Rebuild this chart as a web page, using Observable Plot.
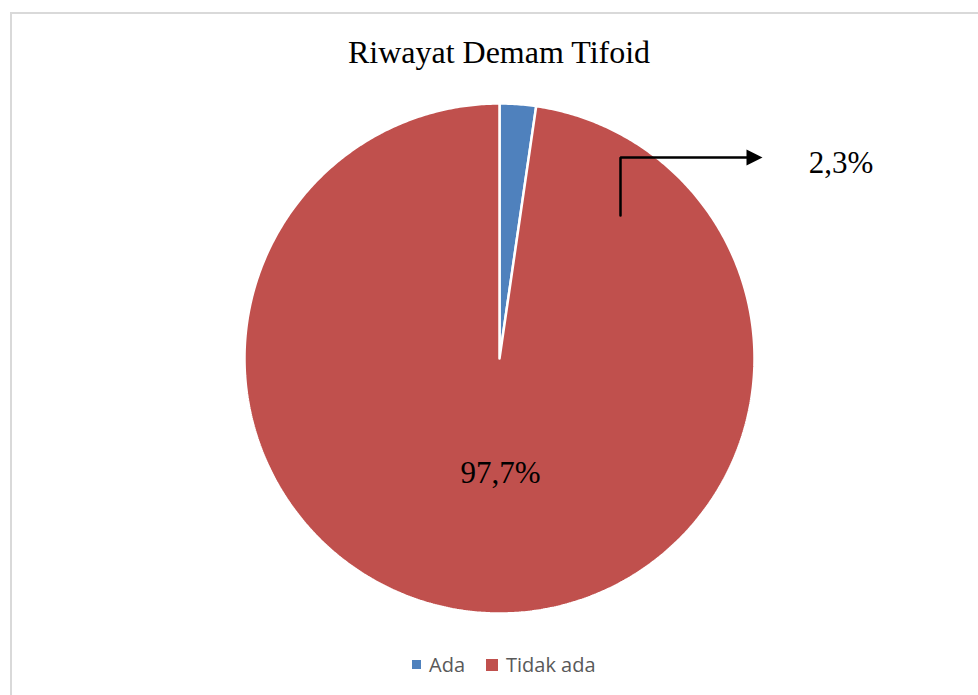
<!DOCTYPE html>
<html>
<head>
<meta charset="utf-8">
<script src="https://cdn.jsdelivr.net/npm/d3@7"></script>
<script src="https://cdn.jsdelivr.net/npm/@observablehq/plot@0.6"></script>
<style>
  html, body { margin: 0; padding: 0; background: #fff; }
  #wrap { position: relative; width: 978px; height: 695px; overflow: hidden; }
  #frame { position: absolute; left: 10px; top: 12px; width: 980px; height: 700px;
           border-left: 2px solid #d9d9d9; border-top: 2px solid #d9d9d9; box-sizing: border-box; }
  #title { position: absolute; left: 0; top: 36px; width: 998px; text-align: center;
           font-family: "Liberation Serif", "Times New Roman", serif; font-size: 32px; line-height: 32px; color: #000; }
  #chart { position: absolute; left: 0; top: 0; }
  #legend { position: absolute; left: 412px; top: 651px; display: flex; align-items: center;
            font-family: "Open Sans", sans-serif; font-size: 20px; color: #595959; }
  .sw { display: inline-block; margin-right: 8px; }
  .item { display: flex; align-items: center; margin-right: 21px; }
</style>
</head>
<body>
<div id="wrap">
  <div id="frame"></div>
  <div id="chart"></div>
  <div id="title">Riwayat Demam Tifoid</div>
  <div id="legend"></div>
</div>
<script>
// ---- data ----
const categories = ["Ada", "Tidak ada"];
const values = [2.3, 97.7];
const valueLabels = ["2,3%", "97,7%"];
const colors = ["#4F81BD", "#C0504D"];
const chartTitle = "Riwayat Demam Tifoid";

// label anchor positions (in radius units, from pie centre)
const labelX = [1.339, 0.004];
const labelY = [0.765, -0.451];

// callout elbow line (radius units)
const calloutX = [0.4745, 0.4745, 0.975];
const calloutY = [0.5608, 0.7882, 0.7882];
const calloutTip = [{x: 1.0, y: 0.7882}];

// ---- geometry from data ----
const arcs = d3.pie().sort(null).startAngle(0).endAngle(2 * Math.PI)(values);
const slicePts = [];
arcs.forEach((a, i) => {
  const key = categories[i];
  slicePts.push({key, x: 0, y: 0});
  const n = Math.max(2, Math.ceil((a.endAngle - a.startAngle) / (Math.PI / 360)));
  for (let k = 0; k <= n; k++) {
    const t = a.startAngle + (a.endAngle - a.startAngle) * k / n;
    slicePts.push({key, x: Math.sin(t), y: Math.cos(t)});
  }
  slicePts.push({key, x: 0, y: 0});
});
const labelData = valueLabels.map((t, i) => ({t, x: labelX[i], y: labelY[i]}));
const calloutData = calloutX.map((x, i) => ({x, y: calloutY[i]}));

const triRight = {
  draw(ctx, size) {
    const r = Math.sqrt(size / Math.PI);
    ctx.moveTo(-r, -r);
    ctx.lineTo(r, 0);
    ctx.lineTo(-r, r);
    ctx.closePath();
  }
};

const plot = Plot.plot({
  width: 978,
  height: 695,
  marginLeft: 244,
  marginRight: 224,
  marginTop: 103,
  marginBottom: 82,
  x: {domain: [-1, 1], axis: null},
  y: {domain: [-1, 1], axis: null},
  color: {domain: categories, range: colors},
  style: {background: "transparent", overflow: "visible"},
  marks: [
    Plot.line(slicePts, {x: "x", y: "y", z: "key", fill: "key", stroke: "white",
                         strokeWidth: 2.5, strokeLinejoin: "miter", curve: "linear"}),
    Plot.line(calloutData, {x: "x", y: "y", stroke: "black", strokeWidth: 2.5,
                            strokeLinejoin: "miter", curve: "linear"}),
    Plot.dot(calloutTip, {x: "x", y: "y", r: 8, symbol: triRight, fill: "black", stroke: "none"}),
    Plot.text(labelData, {x: "x", y: "y", text: "t", fontSize: 31,
                          fontFamily: "Liberation Serif, Times New Roman, serif", fill: "black"})
  ]
});
document.getElementById("chart").appendChild(plot);
document.getElementById("title").textContent = chartTitle;

const sizes = [9, 12];
const legend = document.getElementById("legend");
categories.forEach((c, i) => {
  const item = document.createElement("div");
  item.className = "item";
  const sw = document.createElement("span");
  sw.className = "sw";
  sw.style.width = sizes[i] + "px";
  sw.style.height = sizes[i] + "px";
  sw.style.background = colors[i];
  const tx = document.createElement("span");
  tx.textContent = c;
  item.appendChild(sw);
  item.appendChild(tx);
  legend.appendChild(item);
});
</script>
</body>
</html>
